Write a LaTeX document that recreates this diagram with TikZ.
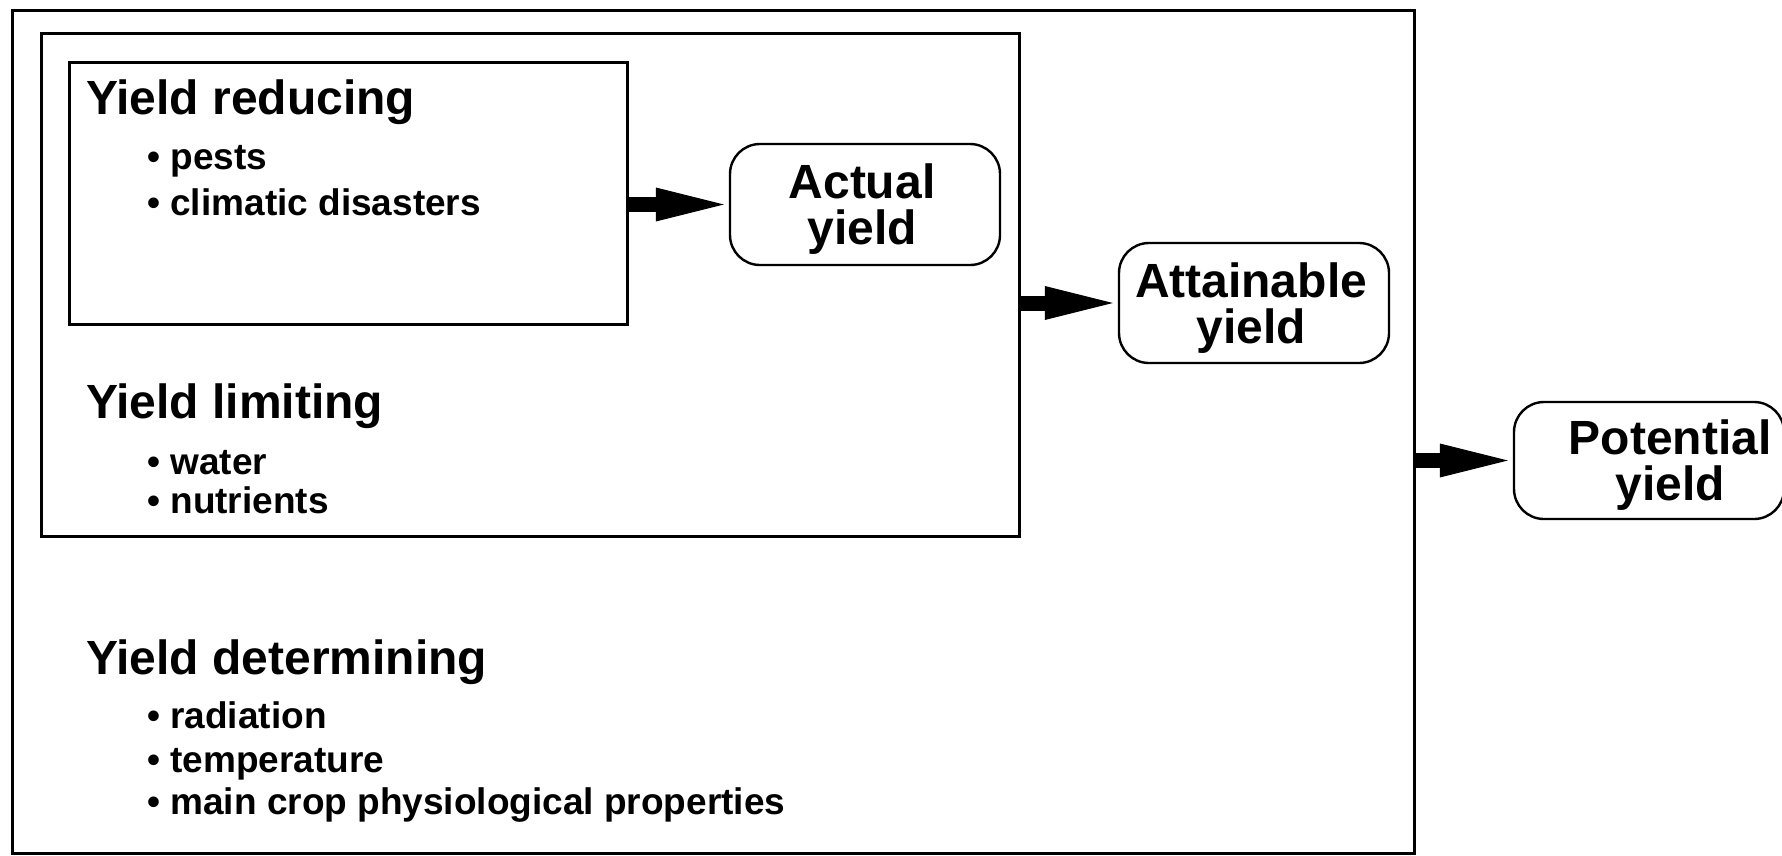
\documentclass[tikz,border=0pt]{standalone}
\usepackage{fontspec}
\setmainfont{Liberation Sans}
\usetikzlibrary{arrows.meta}
\begin{document}
\begin{tikzpicture}[x=1pt,y=-1pt,
  frame/.style={draw, line width=2.6pt, inner sep=0pt, anchor=north west},
  ybox/.style={draw, line width=2.4pt, rounded corners=30pt, minimum width=270pt, inner sep=0pt},
  lab/.style={align=center, inner sep=0pt, text depth=0pt, font=\fontsize{48}{46}\selectfont\bfseries},
  head/.style={anchor=base west, inner sep=0pt, font=\fontsize{48}{56}\selectfont\bfseries},
  item/.style={anchor=base west, inner sep=0pt, font=\fontsize{37}{44}\selectfont\bfseries},
  bigarrow/.style={line width=15pt, -{Triangle[length=68pt,width=34pt,line width=0pt]}, shorten >=5pt}
]
\useasboundingbox (0,0) rectangle (1782,855);

% frames
\node[frame, minimum width=1402pt, minimum height=843pt] (outer) at (11,9) {};
\node[frame, minimum width=978pt, minimum height=503pt] (middle) at (40,32) {};
\node[frame, minimum width=558pt, minimum height=262pt] (inner) at (68,61) {};

% yield boxes
\node[ybox, minimum height=121pt] (actual) at (865,204.5) {};
\node[lab] (actualt) at (862,204.5) {Actual\\yield};
\node[ybox, minimum height=120pt] (attain) at (1254,303) {};
\node[lab] (attaint) at (1251,303) {Attainable\\yield};
\node[ybox, minimum height=117pt] (potential) at (1649,460.5) {};
\node[lab] (potentialt) at (1670,460.5) {Potential\\yield};

% texts
\node[head] (hred) at (86,114) {Yield reducing};
\node[item] (i1) at (147,169) {• pests};
\node[item] (i2) at (147,215) {• climatic disasters};

\node[head] (hlim) at (86,418) {Yield limiting};
\node[item] (i3) at (147,474) {• water};
\node[item] (i4) at (147,513) {• nutrients};

\node[head] (hdet) at (86,674) {Yield determining};
\node[item] (i5) at (147,728) {• radiation};
\node[item] (i6) at (147,772) {• temperature};
\node[item] (i7) at (147,814) {• main crop physiological properties};

% arrows
\draw[bigarrow] (inner.east |- actual.west) -- (actual.west);
\draw[bigarrow] (middle.east |- attain.west) -- (attain.west);
\draw[bigarrow] (outer.east |- potential.west) -- (potential.west);
\end{tikzpicture}
\end{document}
